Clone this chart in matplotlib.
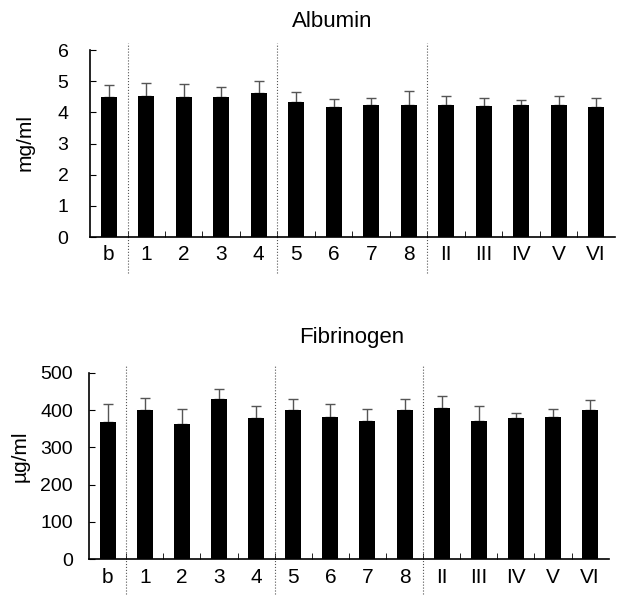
import matplotlib
matplotlib.use("Agg")
import matplotlib.pyplot as plt
import numpy as np

plt.rcParams['font.family'] = ['Liberation Sans', 'DejaVu Sans']

labels = ["b", "1", "2", "3", "4", "5", "6", "7", "8", "II", "III", "IV", "V", "VI"]

albumin = [4.50, 4.52, 4.50, 4.50, 4.61, 4.33, 4.18, 4.22, 4.22, 4.24, 4.20, 4.22, 4.22, 4.18]
albumin_err = [0.38, 0.41, 0.42, 0.30, 0.40, 0.32, 0.25, 0.23, 0.45, 0.28, 0.27, 0.18, 0.30, 0.27]

fibrinogen = [369, 400, 362, 431, 380, 400, 382, 372, 400, 405, 372, 380, 382, 400]
fibrinogen_err = [47, 33, 40, 25, 30, 30, 34, 30, 29, 34, 38, 12, 21, 27]

separators = [0.5, 4.5, 8.5]


def draw_panel(ax, vals, errs, ymax, step, ypad, xpad):
    x = np.arange(len(labels))
    ax.bar(x, vals, width=0.43, color='black', zorder=2)
    ax.errorbar(x, vals, yerr=[np.zeros(len(errs)), errs], fmt='none',
                ecolor='#555555', elinewidth=1, capsize=3.6, capthick=1, zorder=1)
    ax.set_xlim(-0.5, len(labels) - 0.5)
    ax.set_ylim(0, ymax)
    ax.set_yticks(np.arange(0, ymax + step / 2, step))
    ax.set_xticks(x)
    ax.set_xticklabels(labels)
    ax.set_xticks(np.arange(0.5, len(labels) - 0.5, 1), minor=True)
    ax.tick_params(axis='x', which='major', length=0, pad=xpad, labelsize=15)
    ax.tick_params(axis='x', which='minor', direction='in', length=4)
    ax.tick_params(axis='y', direction='in', length=4, labelsize=14, pad=ypad)
    for s in ['top', 'right']:
        ax.spines[s].set_visible(False)
    ax.spines['left'].set_linewidth(1.2)
    ax.spines['bottom'].set_linewidth(1.2)
    trans = ax.get_xaxis_transform()
    for sx in separators:
        ax.plot([sx, sx], [-0.19, 1.04], transform=trans, color='#555555',
                linestyle=':', linewidth=0.8, clip_on=False)


W, H = 623, 604
fig = plt.figure(figsize=(W / 100, H / 100), dpi=100)
ax1 = fig.add_axes([0.1445, 0.6076, 0.8425, 0.3096])
ax2 = fig.add_axes([0.143, 0.0745, 0.834, 0.308])

draw_panel(ax1, albumin, albumin_err, 6, 1, ypad=15.5, xpad=5.5)
draw_panel(ax2, fibrinogen, fibrinogen_err, 500, 100, ypad=11.5, xpad=6.5)

fig.text(332 / W, 1 - 27 / H, "Albumin", ha='center', va='baseline', fontsize=16)
fig.text(352 / W, 1 - 343 / H, "Fibrinogen", ha='center', va='baseline', fontsize=16)
fig.text(25 / W, 1 - 143 / H, "mg/ml", rotation=90, ha='center', va='center', fontsize=15)
fig.text(20 / W, 1 - 456 / H, "µg/ml", rotation=90, ha='center', va='center', fontsize=15)

fig.savefig("out.png", dpi=100)
